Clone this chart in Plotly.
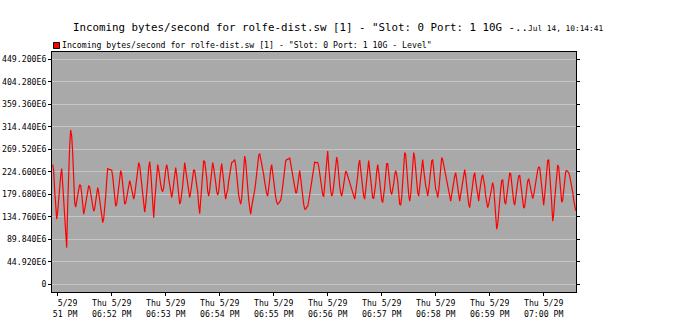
import pandas as pd
import plotly.graph_objects as go

# ---------------- data ----------------
TITLE = 'Incoming bytes/second for rolfe-dist.sw [1] - "Slot: 0 Port: 1 10G -..'
TITLE_TIME = "Jul 14, 10:14:41"
SERIES_NAME = 'Incoming bytes/second for rolfe-dist.sw [1] - "Slot: 0 Port: 1 10G - Level"'

FIRST_SAMPLE = "2025-05-29 18:50:54.444"
SAMPLE_SECONDS = 10 / 9

# bytes/second, in units of 1E6
incoming_e6 = [
    239, 227, 186, 153, 130, 146, 174, 199, 217, 231,
    196, 174, 146, 93, 73, 160, 231, 277, 308, 296,
    261, 219, 163, 154, 168, 179, 189, 199, 197, 181,
    157, 140, 150, 163, 176, 189, 197, 194, 184, 170,
    157, 146, 151, 166, 186, 193, 183, 168, 150, 133,
    123, 131, 151, 176, 207, 231, 230, 229, 229, 228,
    215, 196, 176, 156, 160, 175, 189, 213, 227, 220,
    198, 172, 160, 162, 174, 188, 199, 207, 199, 188,
    177, 170, 179, 195, 213, 228, 243,
    237, 216, 196, 182, 163, 144, 160, 179, 206, 233,
    245, 226, 199, 164, 133, 166, 189, 209, 239, 229,
    209, 199, 189, 185, 193, 216, 229, 239, 229, 211,
    197, 178, 173, 185, 199, 215, 233, 219, 199, 175,
    160, 165, 178, 197, 220, 243, 229, 215, 196, 179,
    173, 184, 199, 215, 229, 227, 214, 201, 184, 158,
    141, 168, 201, 227, 247, 245, 233, 213, 186, 176,
    188, 207, 229, 243, 233, 221, 203, 186, 178, 186,
    211, 227, 241, 228, 206, 184, 170, 181,
    189, 206, 219, 233, 243, 244, 246, 249, 238, 215,
    195, 178, 168, 160, 172, 199, 231, 256, 245, 216,
    191, 168, 153, 140, 155, 164, 175, 188, 203, 223,
    245, 257, 261, 252, 240, 229, 219, 204, 191, 181,
    176, 189, 209, 229, 239, 223, 203, 188, 174, 164,
    160, 162, 164, 168, 179, 195, 211, 229, 246, 249,
    250, 250, 253, 243, 229, 217, 206, 195, 183, 183,
    201, 219, 227, 211, 189, 172, 160, 150, 150, 154,
    156, 166, 179, 193, 206, 223, 236, 244,
    243, 243, 243, 236, 219, 206, 193, 179, 175, 196,
    219, 249, 266, 236, 207, 188, 176, 181, 197, 216,
    236, 254, 243, 216, 196, 183, 176, 186, 199, 213,
    226, 223, 216, 209, 203, 196, 189, 183, 176, 170,
    183, 196, 216, 239, 248, 229, 209, 189, 176, 170,
    189, 216, 239, 247, 228, 206, 187, 173, 171, 184,
    201, 225, 239, 225, 203, 184, 168, 163, 175, 194,
    219, 241, 241, 221, 201, 185, 179, 187, 201, 218,
    227, 219, 206, 183, 160, 158, 174, 204,
    243, 263, 259, 226, 199, 179, 166, 179, 206, 233,
    263, 253, 223, 199, 183, 176, 196, 223, 243, 249,
    229, 209, 196, 189, 176, 189, 209, 229, 246, 249,
    226, 206, 189, 186, 173, 186, 209, 229, 253, 249,
    239, 229, 219, 209, 199, 186, 173, 166, 179, 193,
    206, 216, 223, 209, 193, 176, 166, 179, 193, 209,
    223, 229, 216, 196, 176, 160, 153, 166, 179, 199,
    216, 223, 206, 189, 173, 166, 186, 203, 213, 219,
    209, 196, 176, 163, 153, 160,
    170, 179, 193, 203, 193, 170, 140, 110, 120, 148,
    170, 189, 207, 209, 187, 164, 160, 176, 196, 213,
    222, 221, 198, 178, 165, 158, 170, 188, 204, 216,
    218, 203, 183, 164, 152, 155, 173, 191, 206, 211,
    201, 188, 176, 171, 178, 193, 207, 219, 228, 234,
    233, 215, 191, 166, 158, 178, 205, 229, 247, 249,
    226, 196, 163, 126, 140, 170, 199, 223, 238, 234,
    209, 181, 164, 168, 188, 209, 225, 227, 225, 223,
    216, 206, 196, 184, 168, 155, 147,
]

y_tick_vals = [0, 44.92, 89.84, 134.76, 179.68, 224.60, 269.52, 314.44, 359.36, 404.28, 449.20]
y_tick_text = ["0", "44.920E6", "89.840E6", "134.760E6", "179.680E6", "224.600E6",
               "269.520E6", "314.440E6", "359.360E6", "404.280E6", "449.200E6"]

x_tick_times = ["2025-05-29 18:51", "2025-05-29 18:52", "2025-05-29 18:53", "2025-05-29 18:54",
                "2025-05-29 18:55", "2025-05-29 18:56", "2025-05-29 18:57", "2025-05-29 18:58",
                "2025-05-29 18:59", "2025-05-29 19:00"]
NB = "\u00a0"
x_tick_text = [NB * 4 + "5/29<br>" + NB * 3 + "51 PM",
               "Thu 5/29<br>06:52 PM", "Thu 5/29<br>06:53 PM", "Thu 5/29<br>06:54 PM",
               "Thu 5/29<br>06:55 PM", "Thu 5/29<br>06:56 PM", "Thu 5/29<br>06:57 PM",
               "Thu 5/29<br>06:58 PM", "Thu 5/29<br>06:59 PM", "Thu 5/29<br>07:00 PM"]

X_RANGE = ["2025-05-29 18:50:53.67", "2025-05-29 19:00:35.9"]
Y_RANGE = [-15.4, 463.8]

# ---------------- figure ----------------
times = pd.date_range(FIRST_SAMPLE, periods=len(incoming_e6),
                      freq=pd.Timedelta(seconds=SAMPLE_SECONDS))

MONO = "DejaVu Sans Mono, Liberation Mono, monospace"
W, H = 686, 333
L, R, T, B = 52, 110, 52, 41
PW, PH = W - L - R, H - T - B


def px_x(x):
    return (x - L) / PW


def px_y(y):
    return (H - B - y) / PH


fig = go.Figure()
fig.add_trace(go.Scatter(
    x=times, y=incoming_e6, mode="lines",
    line=dict(color="#ff0000", width=1.2),
    name=SERIES_NAME, showlegend=False,
))

fig.update_layout(
    width=W, height=H,
    margin=dict(l=L, r=R, t=T, b=B, pad=0, autoexpand=False),
    paper_bgcolor="white", plot_bgcolor="#a9a9a9",
    font=dict(family=MONO, size=8.2, color="black"),
    showlegend=False,
)

fig.update_xaxes(
    range=X_RANGE, tickmode="array", tickvals=x_tick_times, ticktext=x_tick_text,
    automargin=False,
    showgrid=False, zeroline=False,
    showline=True, linecolor="black", linewidth=1, mirror=True,
    ticks="outside", ticklen=3, tickcolor="black", tickwidth=1,
    tickfont=dict(family=MONO, size=8.2, color="black"),
)
fig.update_yaxes(
    range=Y_RANGE, tickmode="array", tickvals=y_tick_vals, ticktext=y_tick_text,
    automargin=False,
    showgrid=True, gridcolor="#c6c6c6", gridwidth=1, zeroline=False,
    showline=True, linecolor="black", linewidth=1, mirror="ticks",
    ticks="outside", ticklen=3, tickcolor="black", tickwidth=1,
    tickfont=dict(family=MONO, size=8.2, color="black"),
)

# title
fig.add_annotation(
    xref="paper", yref="paper", x=px_x(71), y=px_y(27.5),
    xanchor="left", yanchor="middle", showarrow=False,
    text=TITLE + "<span style='font-size:7.8px'>" + TITLE_TIME + "</span>",
    font=dict(family=MONO, size=10.8, color="black"),
)

# legend entry
fig.add_shape(type="rect", xref="paper", yref="paper",
              x0=px_x(53.5), x1=px_x(59.5), y0=px_y(48.5), y1=px_y(42.5),
              fillcolor="#ff0000", line=dict(color="black", width=1))
fig.add_annotation(
    xref="paper", yref="paper", x=px_x(60), y=px_y(44.5),
    xanchor="left", yanchor="middle", showarrow=False,
    text=SERIES_NAME, font=dict(family=MONO, size=8.2, color="black"),
)

fig.write_html("out.html", config={"displayModeBar": False},
               post_script="document.body.style.margin='0px';")
